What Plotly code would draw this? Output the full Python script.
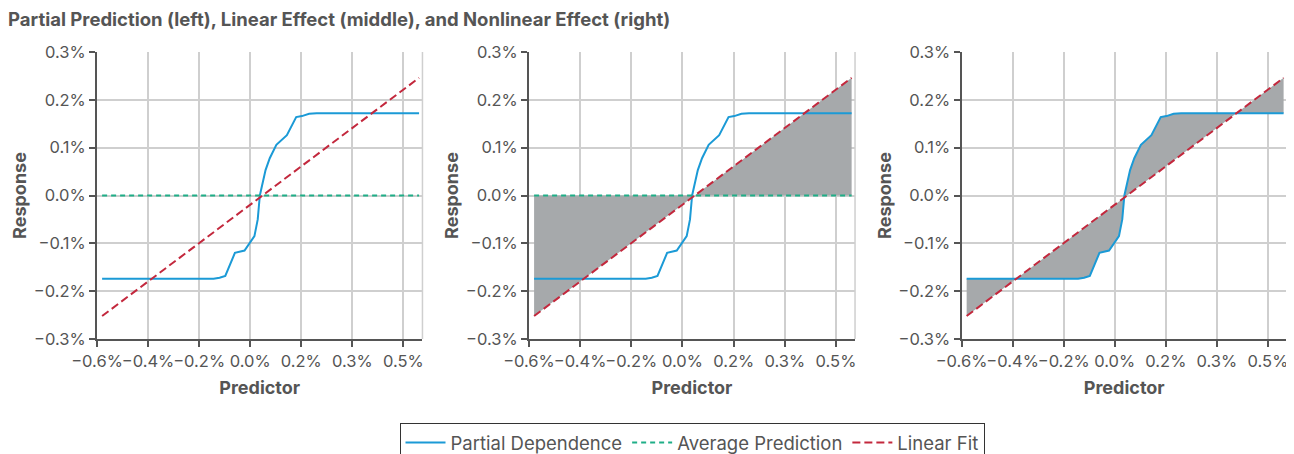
import plotly.graph_objects as go

# ---- data (x and y in percent units) ----
pd_x = [-0.493, -0.122, -0.102, -0.083, -0.051, -0.019, 0.014, 0.025, 0.032,
        0.051, 0.065, 0.087, 0.122, 0.153, 0.172, 0.196, 0.221, 0.562]
pd_y = [-0.174, -0.174, -0.172, -0.168, -0.120, -0.115, -0.085, -0.050, 0.000,
        0.053, 0.078, 0.106, 0.126, 0.164, 0.166, 0.171, 0.172, 0.172]

fit_x = [-0.493, 0.562]
fit_y = [-0.252, 0.246]

avg_x = [-0.493, 0.562]
avg_y = [0.0, 0.0]

x_tickvals = [-0.51, -0.34, -0.17, 0.0, 0.17, 0.34, 0.51]
x_ticktext = ["\u22120.6%", "\u22120.4%", "\u22120.2%", "0.0%", "0.2%", "0.3%", "0.5%"]
y_tickvals = [-0.3, -0.2, -0.1, 0.0, 0.1, 0.2, 0.3]
y_ticktext = ["\u22120.3%", "\u22120.2%", "\u22120.1%", "0.0%", "0.1%", "0.2%", "0.3%"]

title_text = "Partial Prediction (left), Linear Effect (middle), and Nonlinear Effect (right)"

BLUE = "#1b9ad6"
GREEN = "#1fae87"
RED = "#c3283d"
GRAY_FILL = "#a6a9ab"
TXT = "#555555"
FONT = "Inter"

fig = go.Figure()

def add_lines(xa, ya, show):
    fig.add_trace(go.Scatter(x=pd_x, y=pd_y, mode="lines", name="Partial Dependence",
                             line=dict(color=BLUE, width=2), legendgroup="pd",
                             showlegend=show, xaxis=xa, yaxis=ya))
    fig.add_trace(go.Scatter(x=avg_x, y=avg_y, mode="lines", name="Average Prediction",
                             line=dict(color=GREEN, width=2, dash="5px,4px"), legendgroup="avg",
                             showlegend=show, xaxis=xa, yaxis=ya))
    fig.add_trace(go.Scatter(x=fit_x, y=fit_y, mode="lines", name="Linear Fit",
                             line=dict(color=RED, width=2, dash="8px,4px"), legendgroup="fit",
                             showlegend=show, xaxis=xa, yaxis=ya))

# left panel
add_lines("x", "y", True)

# middle panel: fill between average prediction and linear fit
fig.add_trace(go.Scatter(x=avg_x, y=avg_y, mode="lines", line=dict(width=0),
                         showlegend=False, hoverinfo="skip", xaxis="x2", yaxis="y2"))
fig.add_trace(go.Scatter(x=fit_x, y=fit_y, mode="lines", line=dict(width=0),
                         fill="tonexty", fillcolor=GRAY_FILL,
                         showlegend=False, hoverinfo="skip", xaxis="x2", yaxis="y2"))
add_lines("x2", "y2", False)

# right panel: fill between linear fit and partial dependence
fig.add_trace(go.Scatter(x=fit_x, y=fit_y, mode="lines", line=dict(width=0),
                         showlegend=False, hoverinfo="skip", xaxis="x3", yaxis="y3"))
fig.add_trace(go.Scatter(x=pd_x, y=pd_y, mode="lines", line=dict(width=0),
                         fill="tonexty", fillcolor=GRAY_FILL,
                         showlegend=False, hoverinfo="skip", xaxis="x3", yaxis="y3"))
fig.add_trace(go.Scatter(x=pd_x, y=pd_y, mode="lines", line=dict(color=BLUE, width=2),
                         showlegend=False, xaxis="x3", yaxis="y3"))
fig.add_trace(go.Scatter(x=fit_x, y=fit_y, mode="lines", line=dict(color=RED, width=2, dash="8px,4px"),
                         showlegend=False, xaxis="x3", yaxis="y3"))

domains = [[0.0, 0.2735], [0.363, 0.637], [0.7265, 1.0]]

axis_common = dict(
    showgrid=True, gridcolor="#cfcfcf", gridwidth=1.5,
    showline=True, linecolor="#555555", linewidth=2,
    ticks="outside", ticklen=6, tickwidth=1.5, tickcolor="#555555",
    tickfont=dict(family=FONT, size=16.5, color=TXT),
    zeroline=False,
)

W, H = 1286, 446
PLOT_BOTTOM = 331  # px from top of figure
PLOT_H = 287

layout = dict(
    width=W, height=H,
    margin=dict(l=89, r=7, t=44, b=H - PLOT_BOTTOM, autoexpand=False),
    paper_bgcolor="white", plot_bgcolor="white",
    font=dict(family=FONT, color=TXT),
    title=dict(text="<b>" + title_text + "</b>", x=0, xanchor="left",
               xref="container", y=1 - 12 / H, yanchor="middle",
               font=dict(family=FONT, size=18.5, color=TXT)),
    showlegend=True,
    legend=dict(orientation="h", x=0.5, xanchor="center", y=-(415 - PLOT_BOTTOM) / PLOT_H,
                yanchor="top",
                bordercolor="#333333", borderwidth=1, itemwidth=40,
                font=dict(family=FONT, size=18.5, color=TXT), traceorder="normal"),
    shapes=[],
)

for i in range(3):
    sfx = "" if i == 0 else str(i + 1)
    xa = dict(axis_common, domain=domains[i], range=[-0.51, 0.5733],
              tickvals=x_tickvals, ticktext=x_ticktext, tickangle=0,
              ticklabeloverflow="allow",
              anchor="y" + sfx,
              title=dict(text="<b>Predictor</b>", standoff=12,
                         font=dict(family=FONT, size=18, color=TXT)))
    ya = dict(axis_common, range=[-0.3, 0.3], tickvals=y_tickvals, ticktext=y_ticktext,
              anchor="x" + sfx,
              title=dict(text="<b>Response</b>", standoff=2,
                         font=dict(family=FONT, size=18, color=TXT)))
    layout["xaxis" + sfx] = xa
    layout["yaxis" + sfx] = ya
    layout["shapes"].append(dict(type="line", xref="x" + sfx + " domain", yref="y" + sfx + " domain",
                                 x0=1, x1=1, y0=0, y1=1, line=dict(color="#cfcfcf", width=1.5),
                                 layer="below"))

fig.update_layout(**layout)
fig.write_html("out.html")
